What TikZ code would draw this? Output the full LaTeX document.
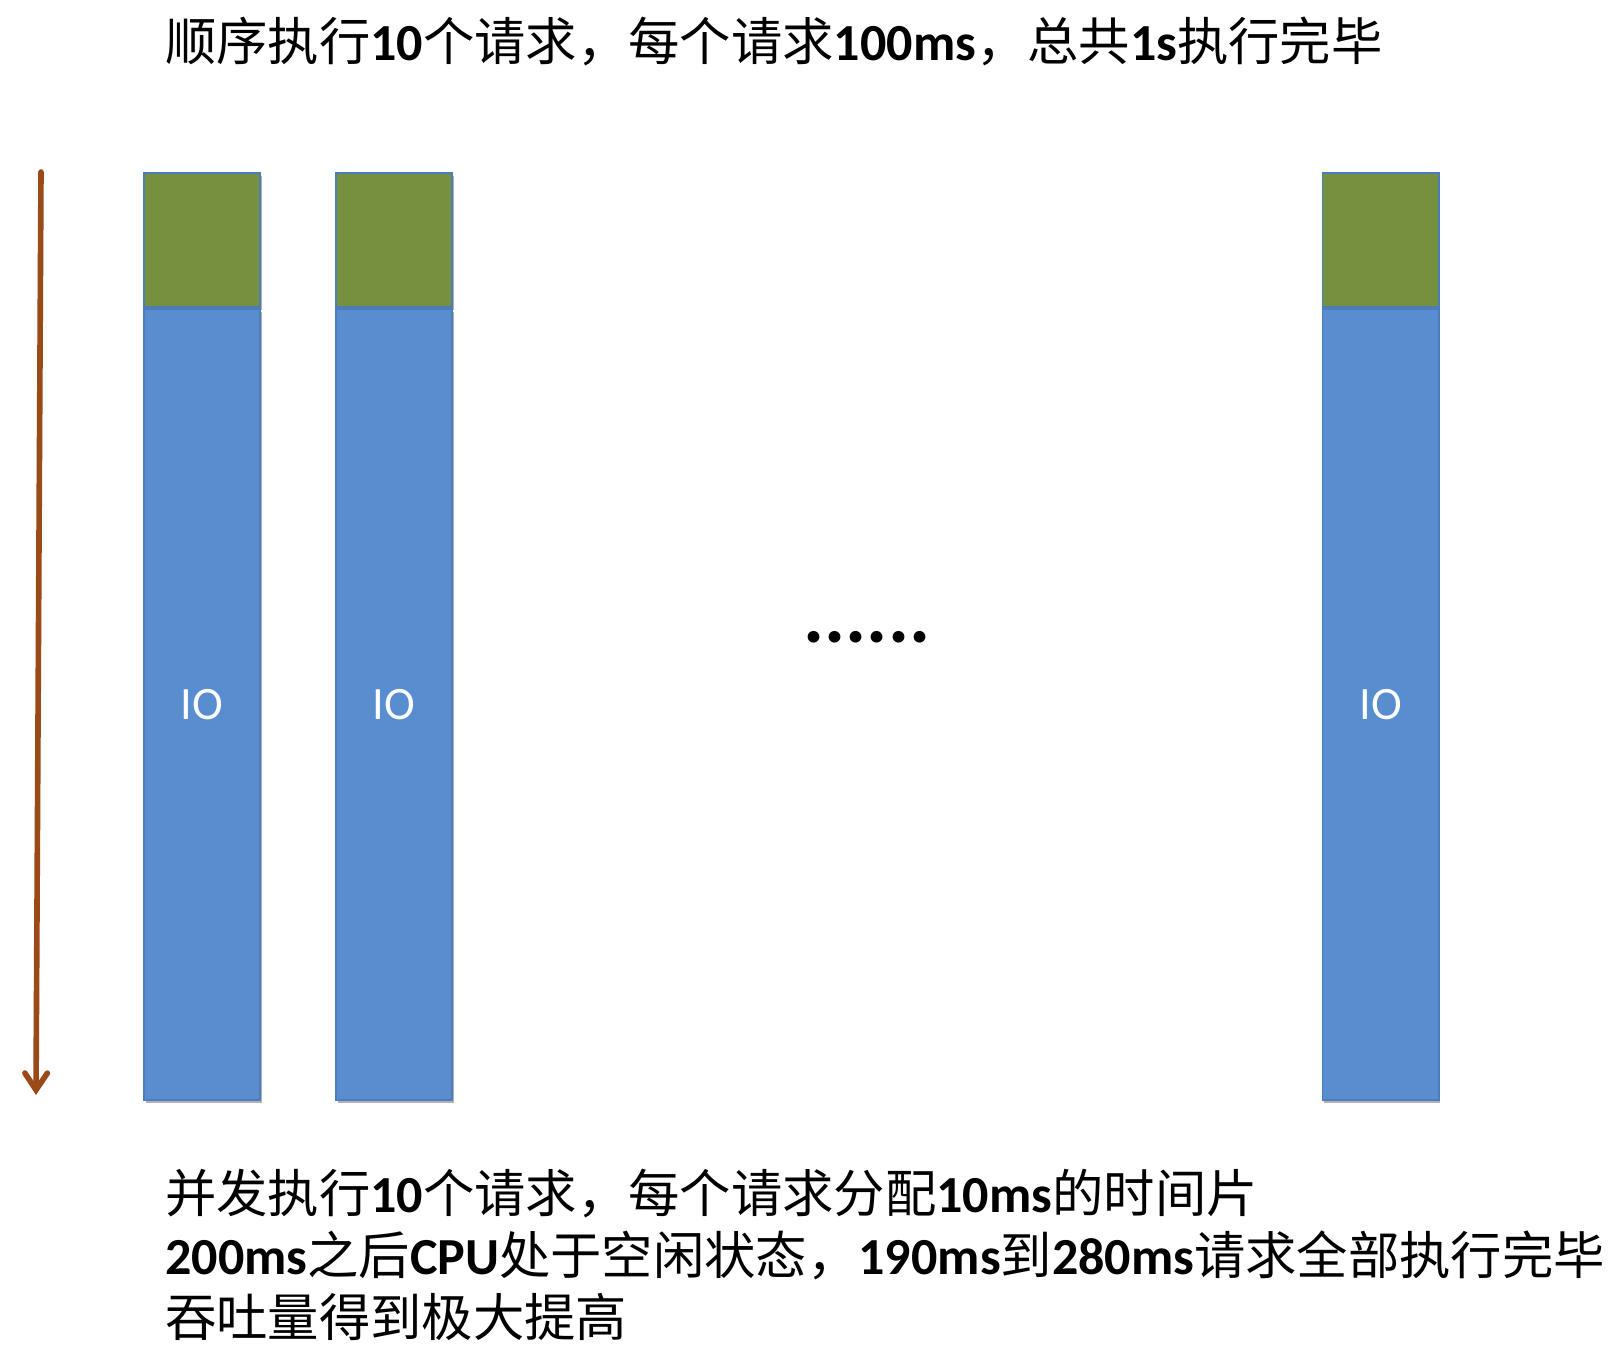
\documentclass[tikz,border=0pt]{standalone}
\usepackage{fontspec}
\setmainfont{Carlito}
\newfontfamily\cjk{Noto Sans CJK SC}
\usetikzlibrary{positioning,arrows.meta,shadows}
\definecolor{cpugreen}{HTML}{77903F}
\definecolor{ioblue}{HTML}{588ED0}
\definecolor{edgeblue}{HTML}{4A7DBA}
\definecolor{timebrown}{HTML}{9A4A17}
\newcommand{\zh}[1]{{\cjk #1}}
\newcommand{\lat}[1]{{\bfseries\fontsize{37}{44}\selectfont #1}}
\tikzset{
    bar/.style={draw=edgeblue, line width=1.4pt, minimum width=2.9cm, inner sep=0pt,
        drop shadow={shadow xshift=0.04cm, shadow yshift=-0.07cm, opacity=0.3, fill=black}},
    cpu/.style={bar, fill=cpugreen, minimum height=3.35cm, anchor=north},
    io/.style={bar, fill=ioblue, minimum height=19.775cm, text=white, font=\fontsize{33}{36}\selectfont},
    caption/.style={anchor=base west, inner sep=0pt, font=\fontsize{36.5}{44}\selectfont},
    timeline/.style={timebrown, line width=4pt, line cap=round, -{Straight Barb[length=12pt, width=16pt, line cap=round]}},
}
\begin{document}
\begin{tikzpicture}[x=0.025cm, y=-0.025cm]
        \useasboundingbox (0,0) rectangle (1622,1362);

        \node[caption] (title) at (165,60)
            {\zh{顺序执行}\lat{10}\zh{个请求，每个请求}\lat{100ms}\zh{，总共}\lat{1s}\zh{执行完毕}};

        \coordinate (tstart) at (41,172);
        \coordinate (tend) at (36,1095);
        \draw[timeline] (tstart) -- (tend);

        \node[cpu] (cpu1) at (202,172) {};
        \node[io, below=0pt of cpu1] (io1) {IO};
        \node[cpu] (cpu2) at (394,172) {};
        \node[io, below=0pt of cpu2] (io2) {IO};
        \node[cpu] (cpu3) at (1380.5,172) {};
        \node[io, below=0pt of cpu3] (io3) {IO};

        \node[font=\bfseries\fontsize{56}{60}\selectfont, inner sep=0pt] (dots) at (867,637) {......};

        \node[caption] (note1) at (165,1212)
            {\zh{并发执行}\lat{10}\zh{个请求，每个请求分配}\lat{10ms}\zh{的时间片}};
        \node[caption] (note2) at (165,1274)
            {\lat{200ms}\zh{之后}\lat{CPU}\zh{处于空闲状态，}\lat{190ms}\zh{到}\lat{280ms}\zh{请求全部执行完毕}};
        \node[caption] (note3) at (165,1336)
            {\zh{吞吐量得到极大提高}};
    \end{tikzpicture}
\end{document}
